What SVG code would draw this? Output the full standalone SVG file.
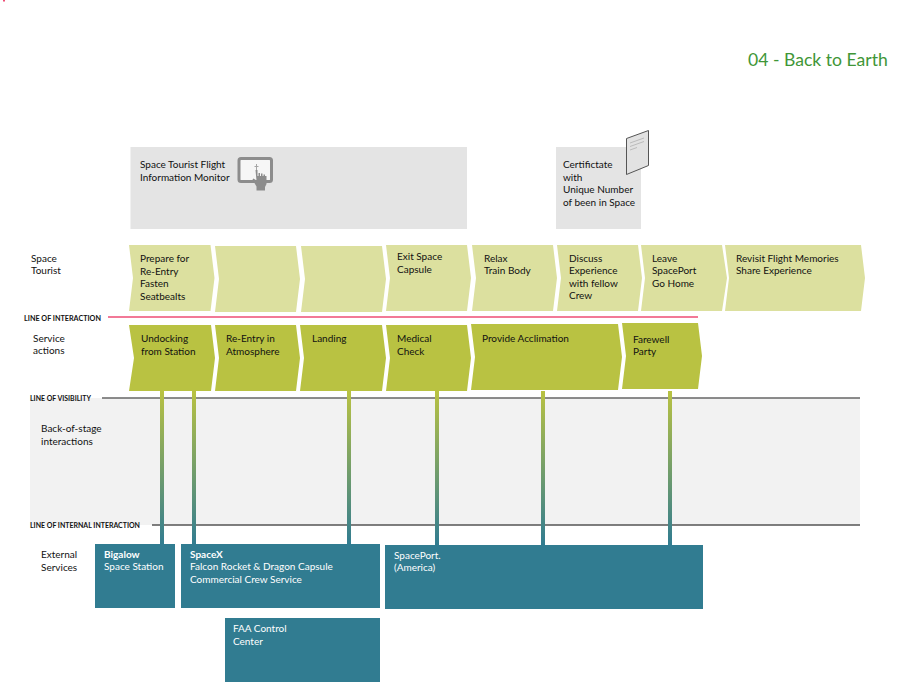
<svg xmlns="http://www.w3.org/2000/svg" width="900" height="682" viewBox="0 0 900 682">
<style>
text{font-family:Lato,"Noto Sans","Liberation Sans",sans-serif;font-size:10px;fill:#111}
.lt{fill:#dce09f}
.sv{fill:#b9c242}
.tl{fill:#317c91}
.w{fill:#fff}
.b{font-weight:700}
.ln{font-size:8px;font-weight:700}
.panel{fill:#e4e4e4}
</style>
<defs>
<linearGradient id="g" gradientUnits="userSpaceOnUse" x1="0" y1="391" x2="0" y2="545">
<stop offset="0" stop-color="#b9c242"/><stop offset="1" stop-color="#317c91"/>
</linearGradient>
</defs>
<rect width="900" height="682" fill="#fff"/>
<rect x="3" y="0" width="2" height="1.500" fill="#ee4d75"/>
<text x="748" y="66" style="font-size:17.600px;fill:#3f9637">04 - Back to Earth</text>
<rect x="30" y="398" width="830" height="127" fill="#f2f2f2"/>
<g id="panels">
<rect class="panel" x="130.500" y="147" width="336.500" height="82"/>
<text x="140" y="168">Space Tourist Flight</text><text x="140" y="181">Information Monitor</text>
<rect x="239" y="158.500" width="32.500" height="23" rx="2" fill="#f6f6f6" stroke="#8c8c8c" stroke-width="3"/>
<path d="M256.500 164v9M254.500 166.500h4" stroke="#a5a5a5" stroke-width="1" fill="none"/>
<path d="M255.500 170h2v6h1v-3h1.500v3h1v-2.500h1.500v2.500h1v-1.500h1.500v1.500h1.500v8l-1.500 3v3.500h-8.500v-4l-4-7 1-1 3 2z" fill="#8c8c8c"/>
<rect class="panel" x="556" y="147" width="85" height="82"/>
<text x="563" y="168">Certifictate</text><text x="563" y="181">with</text><text x="563" y="193">Unique Number</text><text x="563" y="206">of been in Space</text>
<path d="M626.500 138.500 648.500 130.500V165.500L626.500 174.500Z" fill="#e2e2e2" stroke="#555" stroke-width="1"/>
<path d="M630 143 644 138M630 146.500 644 141.500M630 150 637 147.500" stroke="#bbb" stroke-width="1" fill="none"/>
</g>
<g id="lane-labels">
<text x="31" y="262">Space</text><text x="31" y="274">Tourist</text>
<text x="33" y="342">Service</text><text x="33" y="354">actions</text>
<text x="41" y="432">Back-of-stage</text><text x="41" y="445">interactions</text>
<text x="41" y="558">External</text><text x="41" y="571">Services</text>
</g>
<g id="lines">
<text class="ln" x="24" y="320.500" textLength="77" lengthAdjust="spacingAndGlyphs">LINE OF INTERACTION</text>
<line x1="108" y1="317" x2="698" y2="317" stroke="#ee4d75" stroke-width="1.500"/>
<text class="ln" x="30" y="400.500" textLength="61" lengthAdjust="spacingAndGlyphs">LINE OF VISIBILITY</text>
<line x1="102" y1="398" x2="860" y2="398" stroke="#666" stroke-width="1.500"/>
<text class="ln" x="30" y="527.500" textLength="110" lengthAdjust="spacingAndGlyphs">LINE OF INTERNAL INTERACTION</text>
<line x1="152" y1="525" x2="860" y2="525" stroke="#555" stroke-width="1.500"/>
</g>
<g id="connectors" fill="url(#g)">
<rect x="160" y="391" width="4" height="154"/>
<rect x="192" y="391" width="4" height="154"/>
<rect x="347" y="391" width="4" height="154"/>
<rect x="435" y="391" width="4" height="154"/>
<rect x="541" y="391" width="4" height="154"/>
<rect x="668" y="391" width="4" height="154"/>
</g>
<g id="t1"><polygon class="lt" points="129,245 210.500,245 214.500,278 210.500,311 129,311 133,278"/><text x="140" y="262">Prepare for</text><text x="140" y="275">Re-Entry</text><text x="140" y="287">Fasten</text><text x="140" y="300">Seatbealts</text></g>
<g id="t2"><polygon class="lt" points="215,246 296,246 300,279 296,312 215,312 219,279"/></g>
<g id="t3"><polygon class="lt" points="301,246 382,246 386,279 382,312 301,312 305,279"/></g>
<g id="t4"><polygon class="lt" points="386,245 467,245 471,278 467,311 386,311 390,278"/><text x="397" y="260">Exit Space</text><text x="397" y="273">Capsule</text></g>
<g id="t5"><polygon class="lt" points="472,245 553,245 557,278 553,311 472,311 476,278"/><text x="484" y="262">Relax</text><text x="484" y="274">Train Body</text></g>
<g id="t6"><polygon class="lt" points="557,245 638,245 642,278 638,311 557,311 561,278"/><text x="569" y="262">Discuss</text><text x="569" y="274">Experience</text><text x="569" y="287">with fellow</text><text x="569" y="299">Crew</text></g>
<g id="t7"><polygon class="lt" points="641,245 722,245 727,278 722,311 641,311 645,278"/><text x="652" y="262">Leave</text><text x="652" y="274">SpacePort</text><text x="652" y="287">Go Home</text></g>
<g id="t8"><polygon class="lt" points="725,245 861,245 865,278 861,311 725,311 729,278"/><text x="736" y="262">Revisit Flight Memories</text><text x="736" y="274">Share Experience</text></g>
<g id="s1"><polygon class="sv" points="129,325 211,325 215,358 211,391 129,391 134,358"/><text x="141" y="342">Undocking</text><text x="141" y="355">from Station</text></g>
<g id="s2"><polygon class="sv" points="215,325 296,325 300,358 296,391 215,391 219,358"/><text x="226" y="342">Re-Entry in</text><text x="226" y="355">Atmosphere</text></g>
<g id="s3"><polygon class="sv" points="300,325 382,325 386,358 382,391 300,391 304,358"/><text x="312" y="342">Landing</text></g>
<g id="s4"><polygon class="sv" points="386,325 467,325 471,358 467,391 386,391 390,358"/><text x="397" y="342">Medical</text><text x="397" y="355">Check</text></g>
<g id="s5"><polygon class="sv" points="471,324 618,324 622,357 618,390 471,390 475,357"/><text x="482" y="342">Provide Acclimation</text></g>
<g id="s6"><polygon class="sv" points="622,323 698,323 702,356 698,389 622,389 626,356"/><text x="633" y="343">Farewell</text><text x="633" y="355">Party</text></g>
<g id="e1"><rect class="tl" x="95" y="544" width="80" height="64"/><text class="w b" x="104" y="558">Bigalow</text><text class="w" x="104" y="570">Space Station</text></g>
<g id="e2"><rect class="tl" x="181" y="544" width="199" height="64"/><text class="w b" x="190" y="558">SpaceX</text><text class="w" x="190" y="570">Falcon Rocket &amp; Dragon Capsule</text><text class="w" x="190" y="583">Commercial Crew Service</text></g>
<g id="e3"><rect class="tl" x="385" y="545" width="318" height="64"/><text class="w" x="394" y="559">SpacePort.</text><text class="w" x="394" y="571">(America)</text></g>
<g id="e4"><rect class="tl" x="225" y="618" width="155" height="64"/><text class="w" x="233" y="632">FAA Control</text><text class="w" x="233" y="645">Center</text></g>
</svg>
